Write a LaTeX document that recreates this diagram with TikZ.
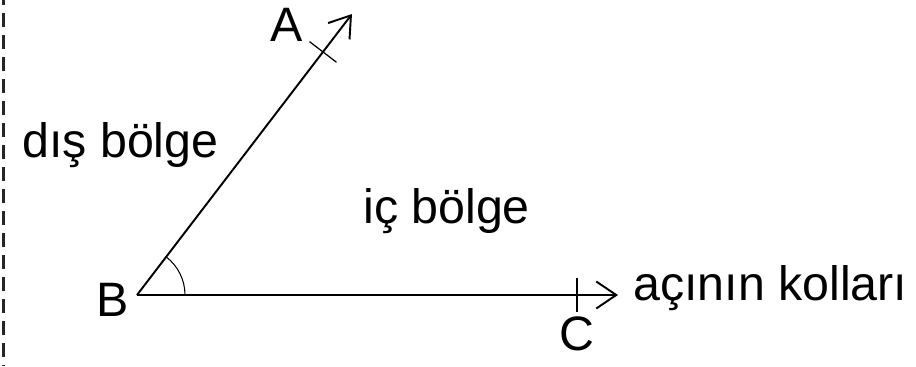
\documentclass[tikz,border=0pt]{standalone}
\usepackage{fontspec}
\setmainfont{Liberation Sans}
\usetikzlibrary{arrows.meta,calc}

\tikzset{
  kol/.style={line width=1.1pt,-{Straight Barb[length=4mm,width=5.4mm,line width=1.1pt]}},
  yazi/.style={inner sep=0pt,font=\fontsize{27.5}{33}\selectfont},
  centik/.style={line width=0.7pt}
}

\begin{document}
\begin{tikzpicture}
\useasboundingbox (0,0) rectangle (18.32,7.32);
\draw[line width=2.2pt,color=black!85,dash pattern=on 0.28cm off 0.16cm,dash phase=0.18cm] (0.07,7.32)--(0.07,0);
\coordinate (B) at (2.74,1.42);
\coordinate (A) at (7.04,7.04);
\coordinate (C) at (12.36,1.42);
\draw[kol] (B)--(A);
\draw[kol] (B)--(C);
% kollar uzerindeki centikler
\coordinate (tA) at ($(B)!0.865!(A)$);
\coordinate (tC) at (11.54,1.42);
\draw[centik] ($(tA)!0.34cm!90:(A)$)--($(tA)!0.34cm!-90:(A)$);
\draw[centik] ($(tC)!0.34cm!90:(C)$)--($(tC)!0.34cm!-90:(C)$);
\draw[line width=0.6pt] ($(B)+(0.96,0)$) arc[start angle=0,end angle=52.6,radius=0.96];
\node[yazi] (lblA) at (5.74,6.82) {A};
\node[yazi] (lblB) at (2.26,1.32) {B};
\node[yazi] (lblC) at (11.54,0.64) {C};
\node[yazi,anchor=base west] (dis) at (0.44,4.18) {dış bölge};
\node[yazi,anchor=base west] (ic) at (7.26,2.86) {iç bölge};
\node[yazi,anchor=base west] (kollar) at (12.66,1.32) {açının kolları};
\end{tikzpicture}
\end{document}
